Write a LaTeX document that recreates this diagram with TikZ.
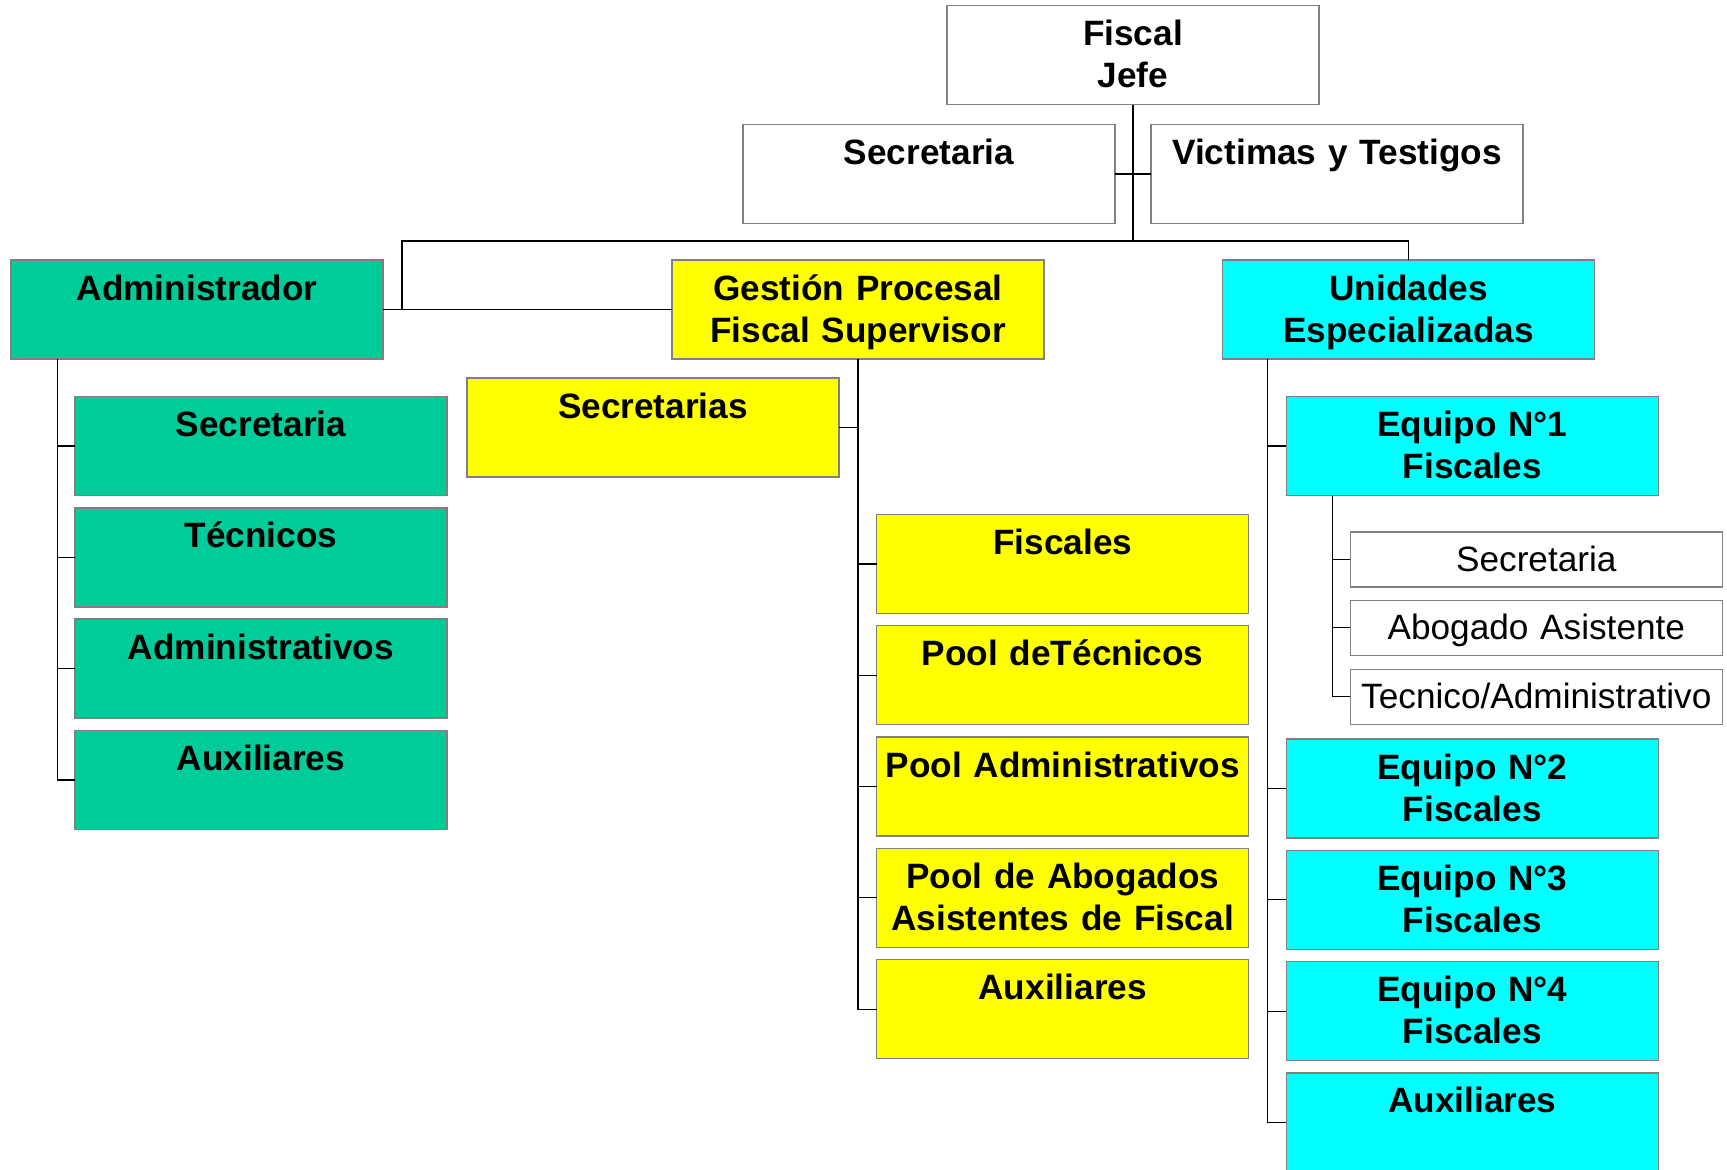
\documentclass[tikz,border=0pt]{standalone}
\usepackage{fontspec}
\setmainfont{Liberation Sans}
\usetikzlibrary{positioning}
\definecolor{admgreen}{RGB}{0,204,153}
\definecolor{gesyellow}{RGB}{255,255,0}
\definecolor{unicyan}{RGB}{0,255,255}
\definecolor{boxgray}{RGB}{128,128,128}
\tikzstyle{unit} = [rectangle, minimum width=186pt, text width=186pt, inner sep=0pt, outer sep=0pt, align=center, text height=20pt, text depth=29.5pt, draw=boxgray, line width=0.75pt, font=\fontsize{17.6}{21}\selectfont\bfseries]
\tikzstyle{plain} = [unit, fill=white]
\tikzstyle{admin} = [unit, fill=admgreen]
\tikzstyle{gestion} = [unit, fill=gesyellow]
\tikzstyle{unidad} = [unit, fill=unicyan]
\tikzstyle{small} = [unit, fill=white, text height=19.5pt, text depth=8pt, font=\fontsize{17.6}{21}\selectfont]
\tikzstyle{line} = [line width=0.6pt, black]

\begin{document}
\begin{tikzpicture}[node distance=6.15pt]
		\useasboundingbox (0,0) rectangle (863.5pt,-584.5pt);

		\node (jefe) [plain, anchor=north west] at (473.5pt,-2.75pt) {Fiscal\\Jefe};
		\node (secretaria) [plain, below left=10pt and 9pt of jefe.south] {Secretaria};
		\node (victimas) [plain, below right=10pt and 9pt of jefe.south] {Victimas y Testigos};

		\node (administrador) [admin, anchor=north west] at (5.5pt,-130pt) {Administrador};
		\node (gestion_procesal) [gestion, anchor=north west] at (336pt,-130pt) {Gestión Procesal\\Fiscal Supervisor};
		\node (unidades) [unidad, anchor=north west] at (611.3pt,-130pt) {Unidades\\Especializadas};

		% administrador
		\node (adm_secretaria) [admin, below right=18.75pt and 32pt of administrador.south west] {Secretaria};
		\node (adm_tecnicos) [admin, below=of adm_secretaria] {Técnicos};
		\node (adm_administrativos) [admin, below=of adm_tecnicos] {Administrativos};
		\node (adm_auxiliares) [admin, below=of adm_administrativos] {Auxiliares};

		% gestion procesal
		\node (ges_secretarias) [gestion, below left=9.5pt and 9.5pt of gestion_procesal.south] {Secretarias};
		\node (ges_fiscales) [gestion, below right=77.7pt and 9.35pt of gestion_procesal.south] {Fiscales};
		\node (ges_tecnicos) [gestion, below=of ges_fiscales] {Pool deTécnicos};
		\node (ges_administrativos) [gestion, below=of ges_tecnicos] {Pool Administrativos};
		\node (ges_abogados) [gestion, below=of ges_administrativos] {Pool de Abogados\\Asistentes de Fiscal};
		\node (ges_auxiliares) [gestion, below=of ges_abogados] {Auxiliares};

		% unidades especializadas
		\node (equipo_1) [unidad, below right=18.75pt and 31.9pt of unidades.south west] {Equipo N°1\\Fiscales};
		\node (eq1_secretaria) [small, below right=18.25pt and 31.95pt of equipo_1.south west] {Secretaria};
		\node (eq1_abogado) [small, below=6.65pt of eq1_secretaria] {Abogado Asistente};
		\node (eq1_tecnico) [small, below=7pt of eq1_abogado] {Tecnico/Administrativo};
		\node (equipo_2) [unidad, below=121.75pt of equipo_1] {Equipo N°2\\Fiscales};
		\node (equipo_3) [unidad, below=of equipo_2] {Equipo N°3\\Fiscales};
		\node (equipo_4) [unidad, below=of equipo_3] {Equipo N°4\\Fiscales};
		\node (uni_auxiliares) [unidad, below=of equipo_4] {Auxiliares};

		\coordinate (bus_left) at (201pt,-120.5pt);

		\draw [line] (jefe.south) -- (jefe.south |- bus_left);
		\draw [line] (secretaria.east) -- (victimas.west);
		\draw [line] (administrador.east -| bus_left) -- (bus_left) -| (unidades.north);
		\draw [line] (administrador.east) -- (gestion_procesal.west);

		\draw [line] ([xshift=23.15pt]administrador.south west) |- (adm_auxiliares.west);
		\draw [line] (adm_secretaria.west) -- +(-8.85pt,0);
		\draw [line] (adm_tecnicos.west) -- +(-8.85pt,0);
		\draw [line] (adm_administrativos.west) -- +(-8.85pt,0);

		\draw [line] (gestion_procesal.south) |- (ges_auxiliares.west);
		\draw [line] (ges_secretarias.east) -- (ges_secretarias.east -| gestion_procesal.south);
		\draw [line] (ges_fiscales.west) -- +(-9.35pt,0);
		\draw [line] (ges_tecnicos.west) -- +(-9.35pt,0);
		\draw [line] (ges_administrativos.west) -- +(-9.35pt,0);
		\draw [line] (ges_abogados.west) -- +(-9.35pt,0);

		\draw [line] ([xshift=22.55pt]unidades.south west) |- (uni_auxiliares.west);
		\draw [line] (equipo_1.west) -- +(-9.35pt,0);
		\draw [line] (equipo_2.west) -- +(-9.35pt,0);
		\draw [line] (equipo_3.west) -- +(-9.35pt,0);
		\draw [line] (equipo_4.west) -- +(-9.35pt,0);

		\draw [line] ([xshift=23.15pt]equipo_1.south west) |- (eq1_tecnico.west);
		\draw [line] (eq1_secretaria.west) -- +(-8.8pt,0);
		\draw [line] (eq1_abogado.west) -- +(-8.8pt,0);
	\end{tikzpicture}
\end{document}
